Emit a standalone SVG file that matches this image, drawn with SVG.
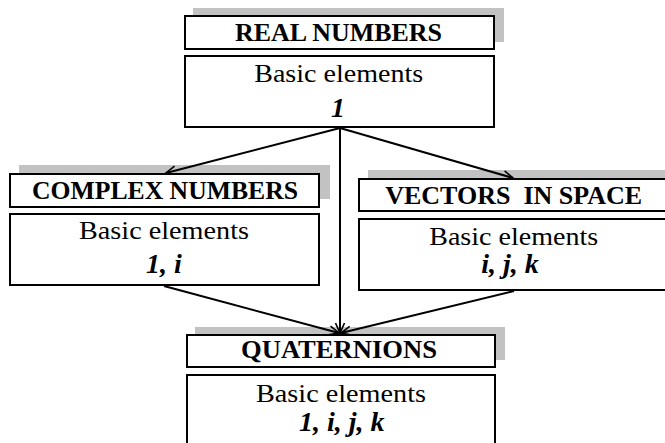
<svg xmlns="http://www.w3.org/2000/svg" width="665" height="443" viewBox="0 0 665 443" font-family="'Liberation Serif', 'DejaVu Serif', serif">
  <defs>
    <marker id="arrow" markerUnits="userSpaceOnUse" markerWidth="14" markerHeight="12" refX="10" refY="5" orient="auto" overflow="visible">
      <path d="M0,0.5 L10,5 L0,9.5" fill="none" stroke="#000" stroke-width="1.6" stroke-linejoin="miter"/>
    </marker>
  </defs>
  <style>
    .shadow { fill: #c2c2c2; stroke: none; }
    .box { fill: #fff; stroke: #000; stroke-width: 2; }
    text { font-family: 'Liberation Serif', 'DejaVu Serif', serif; fill: #000; text-anchor: middle; }
    .title { font-weight: bold; font-size: 26px; }
    .label { font-weight: normal; font-size: 26px; }
    .elems { font-weight: bold; font-style: italic; font-size: 28px; }
    .conn { stroke: #000; stroke-width: 2; fill: none; marker-end: url(#arrow); }
  </style>
  <rect width="665" height="443" fill="#fff"/>

  <g id="shadows">
    <rect class="shadow" x="193" y="8" width="311" height="34"/>
    <rect class="shadow" x="19" y="165" width="311" height="34"/>
    <rect class="shadow" x="368" y="170" width="300" height="34"/>
    <rect class="shadow" x="195" y="327" width="310" height="33"/>
  </g>

  <g id="connectors">
    <line class="conn" x1="340" y1="128" x2="166" y2="173"/>
    <line class="conn" x1="340" y1="128" x2="513" y2="178"/>
    <line class="conn" x1="340" y1="128" x2="340" y2="333"/>
    <line class="conn" x1="164" y1="286" x2="339" y2="333"/>
    <line class="conn" x1="514" y1="291" x2="341" y2="333"/>
  </g>

  <g id="real-numbers">
    <rect class="box" x="185" y="16" width="309" height="33"/>
    <text class="title" font-family="Liberation Serif, serif" x="338.5" y="41" textLength="207" lengthAdjust="spacingAndGlyphs">REAL NUMBERS</text>
    <rect class="box" x="185" y="56" width="309" height="71"/>
    <text class="label" font-family="Liberation Serif, serif" x="338.7" y="82.3" textLength="169" lengthAdjust="spacingAndGlyphs">Basic elements</text>
    <text class="elems" font-family="Liberation Serif, serif" x="338" y="116.5">1</text>
  </g>

  <g id="complex-numbers">
    <rect class="box" x="10" y="174" width="309" height="33"/>
    <text class="title" font-family="Liberation Serif, serif" x="165" y="199.3" textLength="266" lengthAdjust="spacingAndGlyphs">COMPLEX NUMBERS</text>
    <rect class="box" x="10" y="214" width="309" height="71"/>
    <text class="label" font-family="Liberation Serif, serif" x="164" y="239.3" textLength="170" lengthAdjust="spacingAndGlyphs">Basic elements</text>
    <text class="elems" font-family="Liberation Serif, serif" x="164" y="273.3">1, i</text>
  </g>

  <g id="vectors-in-space">
    <rect class="box" x="359" y="179" width="320" height="32"/>
    <text class="title" font-family="Liberation Serif, serif" x="513.7" y="204" textLength="257" lengthAdjust="spacingAndGlyphs" xml:space="preserve">VECTORS  IN SPACE</text>
    <rect class="box" x="359" y="219" width="320" height="71"/>
    <text class="label" font-family="Liberation Serif, serif" x="513.7" y="245" textLength="169" lengthAdjust="spacingAndGlyphs">Basic elements</text>
    <text class="elems" font-family="Liberation Serif, serif" x="510" y="273.3">i, j, k</text>
  </g>

  <g id="quaternions">
    <rect class="box" x="187" y="335" width="308" height="32"/>
    <text class="title" font-family="Liberation Serif, serif" x="339" y="358.3" textLength="196" lengthAdjust="spacingAndGlyphs">QUATERNIONS</text>
    <rect class="box" x="187" y="375" width="308" height="71"/>
    <text class="label" font-family="Liberation Serif, serif" x="341" y="401.7" textLength="170" lengthAdjust="spacingAndGlyphs">Basic elements</text>
    <text class="elems" font-family="Liberation Serif, serif" x="341.7" y="431">1, i, j, k</text>
  </g>
</svg>
